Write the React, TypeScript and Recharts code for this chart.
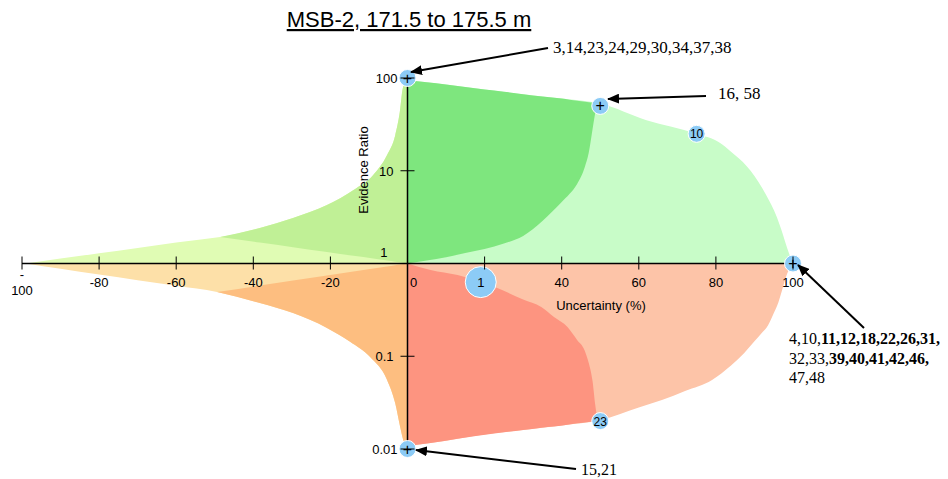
import { ComposedChart, Area, Scatter, XAxis, YAxis, ReferenceLine } from "recharts"

const W = 948
const H = 479
const PLOT_W = 771
const PLOT_H = 371

const AXIS_FONT = "'Liberation Sans', Arial, sans-serif"
const NOTE_FONT = "'Liberation Serif', 'Times New Roman', serif"

const xTicks = [-100, -80, -60, -40, -20, 0, 20, 40, 60, 80, 100]
const yTicks = [0.01, 0.1, 1, 10, 100]
const yTickText = ["0.01", "0.1", "1", "10", "100"]

// upper left: pale lime envelope (from 1 up to the outer curve)
const limeX = [-99, -90, -80, -70, -60, -53.6, -48.6, -38.3, -29.7, -20.9, -14, -8.9, -5.3, -3.2, -2, -1.2, 0]
const limeHigh = [1, 1.13, 1.29, 1.47, 1.68, 1.82, 1.93, 2.42, 3.1, 4.27, 6.2, 9.0, 14.8, 24, 43, 78, 95]

// upper left: mid green wedge
const greenX = [-48.6, -38.3, -29.7, -20.9, -14, -8.9, -5.3, -3.2, -2, -1.2, 0]
const greenLow = [1.93, 1.68, 1.5, 1.33, 1.21, 1.13, 1.075, 1.045, 1.03, 1.02, 1]
const greenHigh = [1.93, 2.42, 3.1, 4.27, 6.2, 9.0, 14.8, 24, 43, 78, 95]

// lower left: pale orange envelope
const paleX = [-99, -90, -80, -70, -60, -49.4, -38.3, -29.7, -20.9, -14.9, -9.7, -5.3, -3.2, -1.9, -1.1, 0]
const paleLow = [1, 0.877, 0.76, 0.66, 0.574, 0.493, 0.375, 0.292, 0.202, 0.143, 0.098, 0.0555, 0.0313, 0.0173, 0.0125, 0.0105]

// lower left: orange wedge
const orangeX = [-49.4, -38.3, -29.7, -20.9, -14.9, -9.7, -5.3, -3.2, -1.9, -1.1, 0]
const orangeLow = [0.493, 0.375, 0.292, 0.202, 0.143, 0.098, 0.0555, 0.0313, 0.0173, 0.0125, 0.0105]
const orangeHigh = [0.493, 0.578, 0.654, 0.741, 0.808, 0.87, 0.926, 0.956, 0.973, 0.985, 1]

// upper right: light green envelope
const mintX = [0, 10, 20, 30, 40, 50, 62, 75, 81, 84, 88, 90, 92, 94, 95.5, 97, 98, 99, 99.6, 100]
const mintHigh = [95, 85, 75, 67, 60, 53, 35, 25, 20, 15.9, 11.2, 8.8, 6.5, 4.6, 3.4, 2.3, 1.7, 1.27, 1.09, 1]

// upper right: dark green core
const coreX = [0, 5, 10, 15, 20, 25, 30, 35, 40, 42, 44, 46, 47, 48, 48.6, 49.2]
const coreLow = [1, 1.08, 1.17, 1.3, 1.43, 1.64, 1.98, 2.87, 4.6, 5.6, 7.2, 11, 15.5, 28, 40, 53.5]
const coreHigh = [95, 89.8, 85, 79.9, 75, 71.1, 67, 63.2, 60, 58.3, 56.9, 55.5, 54.9, 54.2, 54, 53.5]

// lower right: peach envelope
const peachX = [0, 10, 19, 30, 40, 50, 60, 66, 72, 79, 84, 87.3, 90, 92, 93.5, 95, 96.2, 97.2, 98.2, 99.2, 100]
const peachLow = [0.0108, 0.0123, 0.0142, 0.016, 0.0179, 0.0205, 0.0281, 0.0337, 0.0422, 0.0555, 0.08, 0.108, 0.145, 0.18, 0.215, 0.29, 0.38, 0.52, 0.72, 0.9, 1]

// lower right: red core
const redX = [0, 6, 13, 22.5, 30, 34.7, 38, 41.5, 44, 45.9, 47, 48, 48.7, 49.3]
const redLow = [0.0108, 0.0116, 0.0129, 0.0147, 0.016, 0.017, 0.0175, 0.0183, 0.0189, 0.0193, 0.0196, 0.0198, 0.02, 0.02]
const redHigh = [1, 0.85, 0.75, 0.56, 0.41, 0.34, 0.265, 0.207, 0.15, 0.117, 0.085, 0.054, 0.03, 0.02]

// sample markers
const markerX = [0, 50, 75, 19, 100, 50, 0]
const markerY = [100, 50, 25, 0.63, 1, 0.02, 0.01]
const markerLabel = ["+", "+", "10", "1", "+", "23", "+"]

const bigMarkers = ["1"]

const band = (xs: number[], lows: number[] | number, highs: number[] | number) =>
  xs.map((x, i) => ({
    x,
    band: [
      typeof lows === "number" ? lows : lows[i],
      typeof highs === "number" ? highs : highs[i],
    ],
  }))

const limeData = band(limeX, 1, limeHigh)
const greenData = band(greenX, greenLow, greenHigh)
const paleData = band(paleX, paleLow, 1)
const orangeData = band(orangeX, orangeLow, orangeHigh)
const mintData = band(mintX, 1, mintHigh)
const coreData = band(coreX, coreLow, coreHigh)
const peachData = band(peachX, peachLow, 1)
const redData = band(redX, redLow, redHigh)
const markers = markerX.map((x, i) => ({ x, y: markerY[i], label: markerLabel[i] }))

const XTick = (props: any) => {
  const { x, y, payload } = props
  const axisY = y - PLOT_H / 2
  const v = payload.value
  const common = { fontFamily: AXIS_FONT, fontSize: 13, fill: "#000", textAnchor: "middle" as const }
  return (
    <g>
      <line x1={x} x2={x} y1={axisY - 7} y2={axisY + 6} stroke="#000" strokeWidth={1} />
      {v === -100 ? (
        <>
          <text {...common} x={x} y={axisY + 15}>-</text>
          <text {...common} x={x} y={axisY + 31}>100</text>
        </>
      ) : v === 20 ? null : (
        <text {...common} x={v === 0 ? x + 6 : x} y={axisY + 23}>
          {v}
        </text>
      )}
    </g>
  )
}

const YTick = (props: any) => {
  const { x, y, payload } = props
  const axisX = x + PLOT_W / 2
  const v = payload.value
  const i = yTicks.indexOf(v)
  const edge = v === 100 || v === 0.01 ? axisX - 10 : v === 1 ? axisX - 20 : axisX - 14
  const ty = v === 1 ? y - 7 : y + 5
  return (
    <g>
      <line x1={axisX - 7} x2={axisX + 7} y1={y} y2={y} stroke="#000" strokeWidth={1} />
      <text x={edge} y={ty} textAnchor="end" fontFamily={AXIS_FONT} fontSize={13} fill="#000">
        {yTickText[i]}
      </text>
    </g>
  )
}

const Marker = (props: any) => {
  const { cx, cy, payload } = props
  const big = bigMarkers.includes(payload.label)
  const plus = payload.label === "+"
  return (
    <g>
      <circle cx={cx} cy={cy} r={big ? 15.5 : 8.5} fill="#8ccbf6" stroke="#ffffff" strokeWidth={1} />
      <text
        x={cx}
        y={plus ? cy + 5.5 : cy + 4.5}
        textAnchor="middle"
        fontFamily={AXIS_FONT}
        fontSize={plus ? 16 : big ? 13 : 12}
        fill="#000"
      >
        {payload.label}
      </text>
    </g>
  )
}

const areaProps = {
  dataKey: "band",
  type: "monotone" as const,
  stroke: "none",
  fillOpacity: 1,
  isAnimationActive: false,
  dot: false,
  activeDot: false,
}

const App = () => {
  return (
    <div style={{ position: "fixed", left: 0, top: 0, width: W, height: H, background: "#fff" }}>
      <ComposedChart width={W} height={H} margin={{ top: 78, right: 155, bottom: 0, left: 0 }}>
        <Area {...areaProps} data={limeData} fill="#e0fcb4" />
        <Area {...areaProps} data={greenData} fill="#c0f096" />
        <Area {...areaProps} data={paleData} fill="#fde0a8" />
        <Area {...areaProps} data={orangeData} fill="#fdbe80" />
        <Area {...areaProps} data={mintData} fill="#c8fcc8" />
        <Area {...areaProps} data={coreData} fill="#7ee67e" />
        <Area {...areaProps} data={peachData} fill="#fdc4a8" />
        <Area {...areaProps} data={redData} fill="#fd9480" />
        <ReferenceLine y={1} stroke="#000" strokeWidth={1.5} />
        <ReferenceLine x={0} stroke="#000" strokeWidth={1.5} />
        <XAxis
          type="number"
          dataKey="x"
          domain={[-100, 100]}
          ticks={xTicks}
          interval={0}
          axisLine={false}
          tickLine={false}
          tickSize={0}
          tickMargin={0}
          height={30}
          tick={(p: any) => <XTick {...p} />}
        />
        <YAxis
          type="number"
          dataKey="y"
          scale="log"
          domain={[0.01, 100]}
          ticks={yTicks}
          interval={0}
          axisLine={false}
          tickLine={false}
          tickSize={0}
          tickMargin={0}
          width={22}
          tick={(p: any) => <YTick {...p} />}
        />
        <Scatter data={markers} dataKey="y" shape={(p: any) => <Marker {...p} />} isAnimationActive={false} />
      </ComposedChart>

      <svg width={W} height={H} style={{ position: "absolute", left: 0, top: 0, pointerEvents: "none" }}>
        <defs>
          <marker id="head" viewBox="0 0 12 10" refX="11" refY="5" markerWidth="12" markerHeight="10" markerUnits="userSpaceOnUse" orient="auto">
            <path d="M0,0 L12,5 L0,10 z" fill="#000" />
          </marker>
        </defs>
        <text x={409} y={27} textAnchor="middle" fontFamily={AXIS_FONT} fontSize={22} fill="#000" textDecoration="underline">
          MSB-2, 171.5 to 175.5 m
        </text>
        <text transform="translate(368,170) rotate(-90)" textAnchor="middle" fontFamily={AXIS_FONT} fontSize={13} fill="#000">
          Evidence Ratio
        </text>
        <text x={601} y={310} textAnchor="middle" fontFamily={AXIS_FONT} fontSize={13} fill="#000">
          Uncertainty (%)
        </text>

        <line x1={548} y1={48} x2={411} y2={72} stroke="#000" strokeWidth={2} markerEnd="url(#head)" />
        <line x1={706} y1={96} x2={608} y2={99} stroke="#000" strokeWidth={2} markerEnd="url(#head)" />
        <line x1={864} y1={328} x2={798} y2={265} stroke="#000" strokeWidth={2} markerEnd="url(#head)" />
        <line x1={576} y1={469} x2={416} y2={450} stroke="#000" strokeWidth={2} markerEnd="url(#head)" />

        <g fontFamily={NOTE_FONT} fill="#000">
          <text x={553} y={53} fontSize={17}>3,14,23,24,29,30,34,37,38</text>
          <text x={718} y={99} fontSize={17}>16, 58</text>
          <text x={789} y={344} fontSize={16}>
            4,10,<tspan fontWeight="bold">11,12,18,22,26,31,</tspan>
          </text>
          <text x={789} y={364} fontSize={16}>
            32,33,<tspan fontWeight="bold">39,40,41,42,46,</tspan>
          </text>
          <text x={789} y={383} fontSize={16}>47,48</text>
          <text x={581} y={475} fontSize={16}>15,21</text>
        </g>
      </svg>
    </div>
  )
}

export default App
